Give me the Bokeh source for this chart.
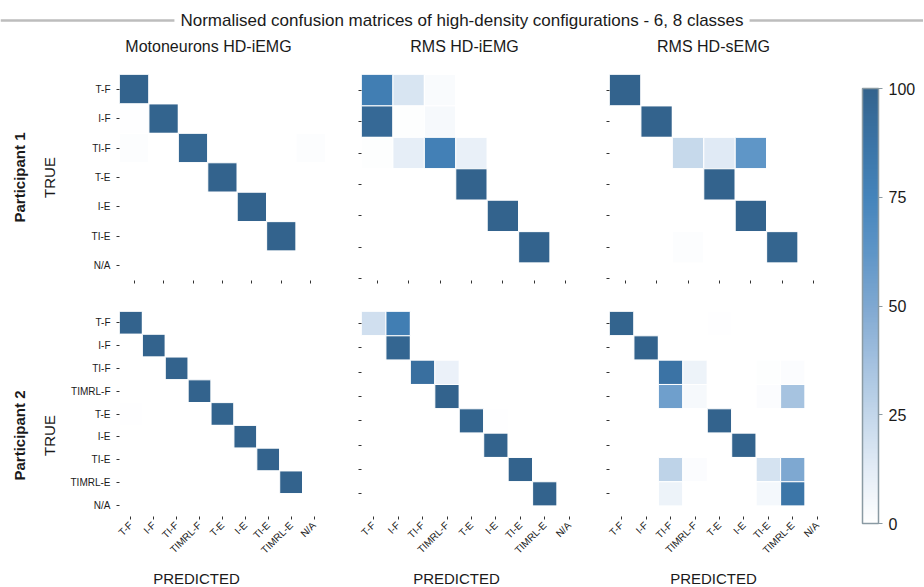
import numpy as np
from bokeh.plotting import figure
from bokeh.models import (Range1d, FixedTicker, ColumnDataSource, LinearColorMapper,
                          ColorBar, Label, Span)
from bokeh.layouts import row, column
from bokeh.transform import linear_cmap
from bokeh.embed import file_html
from bokeh.resources import INLINE

FONT = "Liberation Sans"
INK = "#1a1a1a"

# ---------------- data ----------------
main_title = "Normalised confusion matrices of high-density configurations - 6, 8 classes"
panel_titles = ["Motoneurons HD-iEMG", "RMS HD-iEMG", "RMS HD-sEMG"]
participants = ["Participant 1", "Participant 2"]
true_label = "TRUE"
pred_label = "PREDICTED"
cbar_ticks = [0, 25, 50, 75, 100]

classes_p1 = ["T-F", "I-F", "TI-F", "T-E", "I-E", "TI-E", "N/A"]
classes_p2 = ["T-F", "I-F", "TI-F", "TIMRL-F", "T-E", "I-E", "TI-E", "TIMRL-E", "N/A"]

# rows = TRUE class, columns = PREDICTED class (percent)
p1_motoneurons = [
    [100, 0, 0, 0, 0, 0, 0],
    [0.5, 99.5, 0, 0, 0, 0, 0],
    [1.5, 0, 97, 0, 0, 0, 1.5],
    [0, 0, 0, 100, 0, 0, 0],
    [0, 0, 0, 0, 100, 0, 0],
    [0, 0, 0, 0, 0, 100, 0],
    [0, 0, 0, 0, 0, 0, 0],
]
p1_rms_iemg = [
    [80, 17, 3, 0, 0, 0, 0],
    [95, 1, 4, 0, 0, 0, 0],
    [1, 11, 78, 10, 0, 0, 0],
    [0, 0, 0, 100, 0, 0, 0],
    [0, 0, 0, 0, 100, 0, 0],
    [0, 0, 0, 0, 0, 100, 0],
    [0, 0, 0, 0, 0, 0, 0],
]
p1_rms_semg = [
    [100, 0, 0, 0, 0, 0, 0],
    [0, 100, 0, 0, 0, 0, 0],
    [0, 0, 24, 14, 62, 0, 0],
    [0, 0, 0, 100, 0, 0, 0],
    [0, 0, 0, 0, 100, 0, 0],
    [0, 0, 1.5, 0, 0, 98.5, 0],
    [0, 0, 0, 0, 0, 0, 0],
]
p2_motoneurons = [
    [100, 0, 0, 0, 0, 0, 0, 0, 0],
    [0, 100, 0, 0, 0, 0, 0, 0, 0],
    [0, 0, 100, 0, 0, 0, 0, 0, 0],
    [0, 0, 0, 100, 0, 0, 0, 0, 0],
    [0.5, 0, 0, 0, 99.5, 0, 0, 0, 0],
    [0, 0, 0, 0, 0, 100, 0, 0, 0],
    [0, 0, 0, 0, 0, 0, 100, 0, 0],
    [0, 0, 0, 0, 0, 0, 0, 100, 0],
    [0, 0, 0, 0, 0, 0, 0, 0, 0],
]
p2_rms_iemg = [
    [20, 80, 0, 0, 0, 0, 0, 0, 0],
    [0, 98, 0, 0, 0, 0, 0, 0, 0],
    [0, 0, 91, 9, 0, 0, 0, 0, 0],
    [0, 0, 0, 100, 0, 0, 0, 0, 0],
    [0, 0, 0, 0, 99.5, 0.5, 0, 0, 0],
    [0, 0, 0, 0, 0, 100, 0, 0, 0],
    [0, 0, 0, 0, 0, 0, 100, 0, 0],
    [0, 0, 0, 0, 0, 0, 0, 100, 0],
    [0, 0, 0, 0, 0, 0, 0, 0, 0],
]
p2_rms_semg = [
    [99.5, 0, 0, 0, 0.5, 0, 0, 0, 0],
    [0, 100, 0, 0, 0, 0, 0, 0, 0],
    [0, 0, 88, 8, 0, 0, 1, 2, 0],
    [0, 0, 56, 4, 0, 0, 2, 36, 0],
    [0, 0, 0, 0, 100, 0, 0, 0, 0],
    [0, 0, 0, 0, 0, 100, 0, 0, 0],
    [0, 0, 27, 2, 0, 0, 18, 50, 0],
    [0, 0, 8, 0, 0, 0, 5, 86, 0],
    [0, 0, 0, 0, 0, 0, 0, 0, 0],
]

# ---------------- palette ----------------
anchors = ["#ffffff", "#e3ecf6", "#c3d7ea", "#a2c0df", "#7fa8d1",
           "#5e95c7", "#4584bb", "#3b74a6", "#33638d"]


def build_palette(hexes, n=256):
    rgb = np.array([[int(h[i:i + 2], 16) for i in (1, 3, 5)] for h in hexes], float)
    pos = np.linspace(0, 1, len(hexes))
    out = []
    for tt in np.linspace(0, 1, n):
        c = [np.interp(tt, pos, rgb[:, k]) for k in range(3)]
        out.append("#%02x%02x%02x" % tuple(int(round(v)) for v in c))
    return out


palette = build_palette(anchors)
mapper = LinearColorMapper(palette=palette, low=0, high=100)

# ---------------- geometry ----------------
TOTAL_W, TOTAL_H = 923, 586
TITLE_H = 60              # strip with main title and panel subtitles
BOTTOM_H = 24             # strip with PREDICTED labels
LEFT_W = 64               # strip with TRUE / Participant labels
FW1, FW2, FH = 206, 220, 206
B1 = (55, 20)             # left/right border, column 1
B2 = (16, 12)
B3 = (16, 4)
R1 = (14, 18)             # top/bottom border, row 1
R2 = (13, 45)
CB_W = TOTAL_W - LEFT_W - sum(B1) - FW1 - sum(B2) - FW2 - sum(B3) - FW2
ROWS_H = sum(R1) + FH + sum(R2) + FH

# frame centres (page x)
fx1 = LEFT_W + B1[0] + FW1 / 2
fx2 = LEFT_W + B1[0] + FW1 + B1[1] + B2[0] + FW2 / 2
fx3 = LEFT_W + B1[0] + FW1 + B1[1] + sum(B2) + FW2 + B3[0] + FW2 / 2
title_shift = [-14, -7, -6]
pred_shift = [-26, -15, -6]


def strip(w, h):
    f = figure(width=w, height=h, x_range=Range1d(0, w), y_range=Range1d(0, h),
               x_axis_location=None, y_axis_location=None, title_location=None,
               min_border=0, toolbar_location=None, output_backend="svg")
    f.outline_line_color = None
    f.grid.visible = False
    return f


def text_label(f, x, y, text, size, style="normal", angle=0.0, **kw):
    f.add_layout(Label(x=x, y=y, x_units="screen", y_units="screen", text=text,
                       text_align="center", text_baseline="middle", angle=angle,
                       text_font=FONT, text_font_size=size, text_font_style=style,
                       text_color=INK, **kw))


def panel(matrix, classes, frame_w, hb, vb, xlabels=False, ylabels=False):
    n = len(classes)
    cell = frame_w / n
    yvis = FH / cell
    p = figure(width=hb[0] + frame_w + hb[1], height=vb[0] + FH + vb[1],
               x_range=Range1d(0, n), y_range=Range1d(yvis, 0),
               output_backend="svg", toolbar_location=None, title_location=None,
               min_border_left=hb[0], min_border_right=hb[1],
               min_border_top=vb[0], min_border_bottom=vb[1])
    p.outline_line_color = None
    p.grid.visible = False
    xs, ys, vs = [], [], []
    for i, true_c in enumerate(classes):
        for j, pred_c in enumerate(classes):
            xs.append(classes.index(pred_c) + 0.5)
            ys.append(classes.index(true_c) + 0.5)
            vs.append(matrix[i][j])
    src = ColumnDataSource(dict(x=xs, y=ys, v=vs))
    p.rect(x="x", y="y", width=1, height=1, source=src,
           fill_color=linear_cmap("v", palette, 0, 100),
           line_color="white", line_width=1)
    ticks = [k + 0.5 for k in range(n)]
    for ax, show in ((p.xaxis[0], xlabels), (p.yaxis[0], ylabels)):
        ax.ticker = FixedTicker(ticks=ticks)
        ax.major_label_overrides = {t: (c if show else "") for t, c in zip(ticks, classes)}
        ax.axis_line_color = None
        ax.major_tick_in = 0
        ax.major_tick_out = 3
        ax.major_tick_line_color = "#333333"
        ax.minor_tick_line_color = None
        ax.major_label_text_font = FONT
        ax.major_label_text_font_size = "10px"
        ax.major_label_text_color = INK
        ax.major_label_standoff = 6
    if xlabels:
        p.xaxis[0].major_label_orientation = np.pi / 4
        p.xaxis[0].major_label_standoff = 4
    return p


# heatmap panels
f11 = panel(p1_motoneurons, classes_p1, FW1, B1, R1, ylabels=True)
f12 = panel(p1_rms_iemg, classes_p1, FW2, B2, R1)
f13 = panel(p1_rms_semg, classes_p1, FW2, B3, R1)
f21 = panel(p2_motoneurons, classes_p2, FW1, B1, R2, xlabels=True, ylabels=True)
f22 = panel(p2_rms_iemg, classes_p2, FW2, B2, R2, xlabels=True)
f23 = panel(p2_rms_semg, classes_p2, FW2, B3, R2, xlabels=True)

# title strip: main title with grey rule, then panel subtitles
tf = strip(TOTAL_W, TITLE_H)
tf.add_layout(Span(location=TITLE_H - 20, dimension="width", line_color="#bdbdbd", line_width=2.5))
text_label(tf, TOTAL_W / 2, TITLE_H - 20, main_title, "17px",
           background_fill_color="white", padding=6)
for cx, sh, t in zip((fx1, fx2, fx3), title_shift, panel_titles):
    text_label(tf, cx + sh, TITLE_H - 46, t, "16px")

# left strip: TRUE / Participant labels
ls = strip(LEFT_W, ROWS_H)
row1_c = ROWS_H - (R1[0] + FH / 2)
row2_c = ROWS_H - (sum(R1) + FH + R2[0] + FH / 2) - 21
for yc, part in ((row1_c, participants[0]), (row2_c, participants[1])):
    text_label(ls, 49, yc, true_label, "15px", angle=np.pi / 2)
    text_label(ls, 19, yc, part, "15px", style="bold", angle=np.pi / 2)

# bottom strip: PREDICTED labels
bs = strip(TOTAL_W, BOTTOM_H)
for cx, sh in zip((fx1, fx2, fx3), pred_shift):
    text_label(bs, cx + sh, BOTTOM_H - 16, pred_label, "15px")

# colour bar strip
cb_fig = strip(CB_W, ROWS_H)
cb = ColorBar(color_mapper=mapper, location=(862 - (TOTAL_W - CB_W), ROWS_H - (523 - TITLE_H)),
              width=16, height=435, padding=0,
              ticker=FixedTicker(ticks=cbar_ticks), major_tick_out=4, major_tick_in=0,
              major_tick_line_color="#8a9aa3", bar_line_color="#8a9aa3", bar_line_width=1.5,
              label_standoff=6, major_label_text_font=FONT, major_label_text_font_size="16px",
              major_label_text_color=INK, background_fill_color=None, border_line_color=None)
cb_fig.add_layout(cb, "center")

grid = column(row(f11, f12, f13), row(f21, f22, f23))
layout = column(tf, row(ls, grid, cb_fig), bs)

open("out.html", "w").write(file_html(layout, INLINE))
